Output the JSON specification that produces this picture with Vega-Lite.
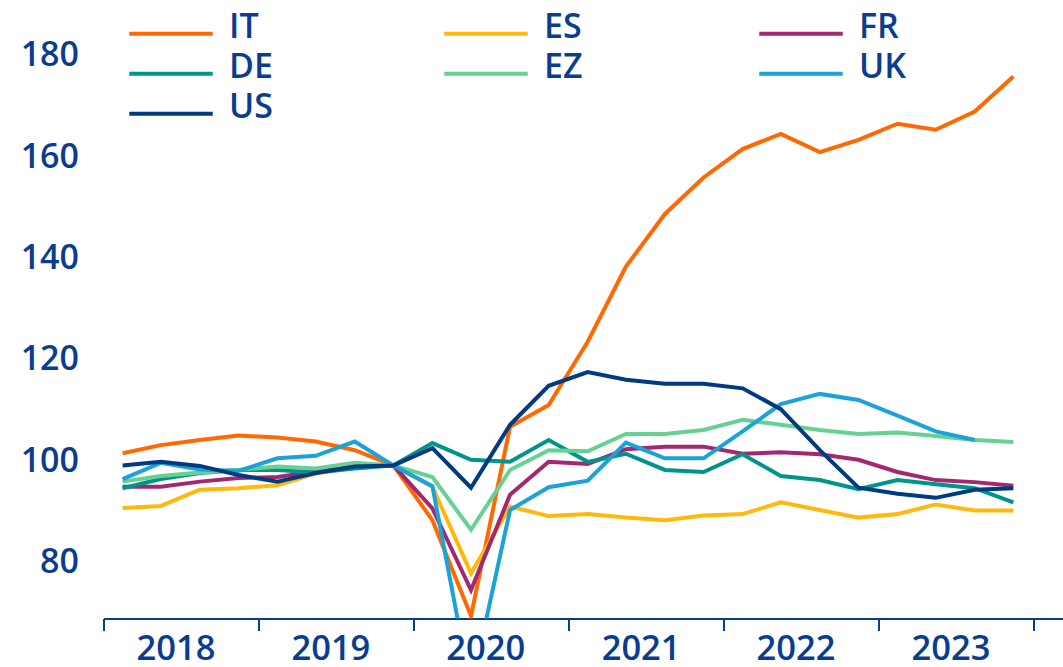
{
  "$schema": "https://vega.github.io/schema/vega-lite/v6.json",
  "width": 959.5,
  "height": 618.5,
  "autosize": {"type": "none"},
  "padding": {"left": 103.5, "top": 0, "right": 0, "bottom": 48.5},
  "background": "white",
  "config": {
    "view": {"stroke": null},
    "font": "Open Sans",
    "legend": {"padding": 0}
  },
  "data": {
    "values": [
      {"date": "2018-02-15", "c": "IT", "v": 101.6}, {"date": "2018-05-16", "c": "IT", "v": 103.2}, {"date": "2018-08-16", "c": "IT", "v": 104.2}, {"date": "2018-11-15", "c": "IT", "v": 105.1},
      {"date": "2019-02-15", "c": "IT", "v": 104.7}, {"date": "2019-05-16", "c": "IT", "v": 103.9}, {"date": "2019-08-16", "c": "IT", "v": 102.2}, {"date": "2019-11-15", "c": "IT", "v": 99.2},
      {"date": "2020-02-15", "c": "IT", "v": 88.4}, {"date": "2020-05-16", "c": "IT", "v": 69.5}, {"date": "2020-08-16", "c": "IT", "v": 106.8}, {"date": "2020-11-15", "c": "IT", "v": 111.1},
      {"date": "2021-02-15", "c": "IT", "v": 123.6}, {"date": "2021-05-16", "c": "IT", "v": 138.4}, {"date": "2021-08-16", "c": "IT", "v": 148.8}, {"date": "2021-11-15", "c": "IT", "v": 156.0},
      {"date": "2022-02-15", "c": "IT", "v": 161.6}, {"date": "2022-05-16", "c": "IT", "v": 164.6}, {"date": "2022-08-16", "c": "IT", "v": 161.0}, {"date": "2022-11-15", "c": "IT", "v": 163.4},
      {"date": "2023-02-15", "c": "IT", "v": 166.6}, {"date": "2023-05-16", "c": "IT", "v": 165.4}, {"date": "2023-08-16", "c": "IT", "v": 169.0}, {"date": "2023-11-15", "c": "IT", "v": 175.9},

      {"date": "2018-02-15", "c": "ES", "v": 90.8}, {"date": "2018-05-16", "c": "ES", "v": 91.2}, {"date": "2018-08-16", "c": "ES", "v": 94.4}, {"date": "2018-11-15", "c": "ES", "v": 94.7},
      {"date": "2019-02-15", "c": "ES", "v": 95.3}, {"date": "2019-05-16", "c": "ES", "v": 97.6}, {"date": "2019-08-16", "c": "ES", "v": 98.8}, {"date": "2019-11-15", "c": "ES", "v": 99.2},
      {"date": "2020-02-15", "c": "ES", "v": 95.0}, {"date": "2020-05-16", "c": "ES", "v": 77.9}, {"date": "2020-08-16", "c": "ES", "v": 91.1}, {"date": "2020-11-15", "c": "ES", "v": 89.2},
      {"date": "2021-02-15", "c": "ES", "v": 89.6}, {"date": "2021-05-16", "c": "ES", "v": 88.9}, {"date": "2021-08-16", "c": "ES", "v": 88.4}, {"date": "2021-11-15", "c": "ES", "v": 89.3},
      {"date": "2022-02-15", "c": "ES", "v": 89.6}, {"date": "2022-05-16", "c": "ES", "v": 91.9}, {"date": "2022-08-16", "c": "ES", "v": 90.4}, {"date": "2022-11-15", "c": "ES", "v": 88.9},
      {"date": "2023-02-15", "c": "ES", "v": 89.6}, {"date": "2023-05-16", "c": "ES", "v": 91.5}, {"date": "2023-08-16", "c": "ES", "v": 90.3}, {"date": "2023-11-15", "c": "ES", "v": 90.3},

      {"date": "2018-02-15", "c": "FR", "v": 95.0}, {"date": "2018-05-16", "c": "FR", "v": 95.0}, {"date": "2018-08-16", "c": "FR", "v": 96.0}, {"date": "2018-11-15", "c": "FR", "v": 96.7},
      {"date": "2019-02-15", "c": "FR", "v": 96.9}, {"date": "2019-05-16", "c": "FR", "v": 98.0}, {"date": "2019-08-16", "c": "FR", "v": 99.0}, {"date": "2019-11-15", "c": "FR", "v": 99.2},
      {"date": "2020-02-15", "c": "FR", "v": 90.7}, {"date": "2020-05-16", "c": "FR", "v": 74.6}, {"date": "2020-08-16", "c": "FR", "v": 93.4}, {"date": "2020-11-15", "c": "FR", "v": 99.9},
      {"date": "2021-02-15", "c": "FR", "v": 99.5}, {"date": "2021-05-16", "c": "FR", "v": 102.4}, {"date": "2021-08-16", "c": "FR", "v": 102.9}, {"date": "2021-11-15", "c": "FR", "v": 102.9},
      {"date": "2022-02-15", "c": "FR", "v": 101.5}, {"date": "2022-05-16", "c": "FR", "v": 101.8}, {"date": "2022-08-16", "c": "FR", "v": 101.4}, {"date": "2022-11-15", "c": "FR", "v": 100.3},
      {"date": "2023-02-15", "c": "FR", "v": 97.9}, {"date": "2023-05-16", "c": "FR", "v": 96.3}, {"date": "2023-08-16", "c": "FR", "v": 95.9}, {"date": "2023-11-15", "c": "FR", "v": 95.2},

      {"date": "2018-02-15", "c": "DE", "v": 94.7}, {"date": "2018-05-16", "c": "DE", "v": 96.5}, {"date": "2018-08-16", "c": "DE", "v": 97.7}, {"date": "2018-11-15", "c": "DE", "v": 98.3},
      {"date": "2019-02-15", "c": "DE", "v": 98.3}, {"date": "2019-05-16", "c": "DE", "v": 97.8}, {"date": "2019-08-16", "c": "DE", "v": 98.6}, {"date": "2019-11-15", "c": "DE", "v": 99.2},
      {"date": "2020-02-15", "c": "DE", "v": 103.6}, {"date": "2020-05-16", "c": "DE", "v": 100.3}, {"date": "2020-08-16", "c": "DE", "v": 99.9}, {"date": "2020-11-15", "c": "DE", "v": 104.2},
      {"date": "2021-02-15", "c": "DE", "v": 99.9}, {"date": "2021-05-16", "c": "DE", "v": 101.5}, {"date": "2021-08-16", "c": "DE", "v": 98.3}, {"date": "2021-11-15", "c": "DE", "v": 97.9},
      {"date": "2022-02-15", "c": "DE", "v": 101.4}, {"date": "2022-05-16", "c": "DE", "v": 97.1}, {"date": "2022-08-16", "c": "DE", "v": 96.3}, {"date": "2022-11-15", "c": "DE", "v": 94.5},
      {"date": "2023-02-15", "c": "DE", "v": 96.3}, {"date": "2023-05-16", "c": "DE", "v": 95.5}, {"date": "2023-08-16", "c": "DE", "v": 94.7}, {"date": "2023-11-15", "c": "DE", "v": 91.9},

      {"date": "2018-02-15", "c": "EZ", "v": 96.0}, {"date": "2018-05-16", "c": "EZ", "v": 97.1}, {"date": "2018-08-16", "c": "EZ", "v": 97.8}, {"date": "2018-11-15", "c": "EZ", "v": 98.3},
      {"date": "2019-02-15", "c": "EZ", "v": 99.0}, {"date": "2019-05-16", "c": "EZ", "v": 98.6}, {"date": "2019-08-16", "c": "EZ", "v": 99.7}, {"date": "2019-11-15", "c": "EZ", "v": 99.2},
      {"date": "2020-02-15", "c": "EZ", "v": 96.9}, {"date": "2020-05-16", "c": "EZ", "v": 86.5}, {"date": "2020-08-16", "c": "EZ", "v": 98.3}, {"date": "2020-11-15", "c": "EZ", "v": 102.2},
      {"date": "2021-02-15", "c": "EZ", "v": 102.0}, {"date": "2021-05-16", "c": "EZ", "v": 105.4}, {"date": "2021-08-16", "c": "EZ", "v": 105.4}, {"date": "2021-11-15", "c": "EZ", "v": 106.2},
      {"date": "2022-02-15", "c": "EZ", "v": 108.2}, {"date": "2022-05-16", "c": "EZ", "v": 107.2}, {"date": "2022-08-16", "c": "EZ", "v": 106.2}, {"date": "2022-11-15", "c": "EZ", "v": 105.4},
      {"date": "2023-02-15", "c": "EZ", "v": 105.7}, {"date": "2023-05-16", "c": "EZ", "v": 105.0}, {"date": "2023-08-16", "c": "EZ", "v": 104.2}, {"date": "2023-11-15", "c": "EZ", "v": 103.8},

      {"date": "2018-02-15", "c": "UK", "v": 96.5}, {"date": "2018-05-16", "c": "UK", "v": 99.7}, {"date": "2018-08-16", "c": "UK", "v": 98.4}, {"date": "2018-11-15", "c": "UK", "v": 98.1},
      {"date": "2019-02-15", "c": "UK", "v": 100.6}, {"date": "2019-05-16", "c": "UK", "v": 101.1}, {"date": "2019-08-16", "c": "UK", "v": 103.9}, {"date": "2019-11-15", "c": "UK", "v": 99.2},
      {"date": "2020-02-15", "c": "UK", "v": 95.1}, {"date": "2020-05-16", "c": "UK", "v": 55.0}, {"date": "2020-08-16", "c": "UK", "v": 90.4}, {"date": "2020-11-15", "c": "UK", "v": 94.9},
      {"date": "2021-02-15", "c": "UK", "v": 96.2}, {"date": "2021-05-16", "c": "UK", "v": 103.7}, {"date": "2021-08-16", "c": "UK", "v": 100.6}, {"date": "2021-11-15", "c": "UK", "v": 100.6},
      {"date": "2022-02-15", "c": "UK", "v": 105.9}, {"date": "2022-05-16", "c": "UK", "v": 111.3}, {"date": "2022-08-16", "c": "UK", "v": 113.3}, {"date": "2022-11-15", "c": "UK", "v": 112.1},
      {"date": "2023-02-15", "c": "UK", "v": 109.0}, {"date": "2023-05-16", "c": "UK", "v": 105.9}, {"date": "2023-08-16", "c": "UK", "v": 104.2},

      {"date": "2018-02-15", "c": "US", "v": 99.2}, {"date": "2018-05-16", "c": "US", "v": 99.9}, {"date": "2018-08-16", "c": "US", "v": 99.1}, {"date": "2018-11-15", "c": "US", "v": 97.3},
      {"date": "2019-02-15", "c": "US", "v": 96.0}, {"date": "2019-05-16", "c": "US", "v": 97.7}, {"date": "2019-08-16", "c": "US", "v": 99.0}, {"date": "2019-11-15", "c": "US", "v": 99.2},
      {"date": "2020-02-15", "c": "US", "v": 102.6}, {"date": "2020-05-16", "c": "US", "v": 94.8}, {"date": "2020-08-16", "c": "US", "v": 107.2}, {"date": "2020-11-15", "c": "US", "v": 114.9},
      {"date": "2021-02-15", "c": "US", "v": 117.6}, {"date": "2021-05-16", "c": "US", "v": 116.1}, {"date": "2021-08-16", "c": "US", "v": 115.3}, {"date": "2021-11-15", "c": "US", "v": 115.3},
      {"date": "2022-02-15", "c": "US", "v": 114.4}, {"date": "2022-05-16", "c": "US", "v": 110.3}, {"date": "2022-08-16", "c": "US", "v": 102.2}, {"date": "2022-11-15", "c": "US", "v": 94.8},
      {"date": "2023-02-15", "c": "US", "v": 93.6}, {"date": "2023-05-16", "c": "US", "v": 92.8}, {"date": "2023-08-16", "c": "US", "v": 94.4}, {"date": "2023-11-15", "c": "US", "v": 94.7}
    ]
  },
  "mark": {"type": "line", "strokeWidth": 4, "clip": true},
  "encoding": {
    "x": {
      "field": "date",
      "type": "temporal",
      "scale": {
        "type": "utc",
        "domain": [
          {"year": 2018, "month": 1, "date": 1, "utc": true},
          {"year": 2024, "month": 3, "date": 11, "utc": true}
        ]
      },
      "axis": {
        "title": null,
        "grid": false,
        "values": [
          {"year": 2018, "utc": true}, {"year": 2019, "utc": true}, {"year": 2020, "utc": true},
          {"year": 2021, "utc": true}, {"year": 2022, "utc": true}, {"year": 2023, "utc": true},
          {"year": 2024, "utc": true}
        ],
        "labelExpr": "utcyear(datum.value) < 2024 ? '' + utcyear(datum.value) : ''",
        "labelOffset": 72,
        "labelAlign": "center",
        "labelFlush": false,
        "labelOverlap": false,
        "labelBound": false,
        "labelFontSize": 34.5,
        "labelFontWeight": 600,
        "labelColor": "#0a3d8f",
        "labelPadding": 2,
        "tickSize": 12,
        "tickWidth": 2,
        "tickColor": "#0a3d8f",
        "domainWidth": 2,
        "domainColor": "#0a3d8f"
      }
    },
    "y": {
      "field": "v",
      "type": "quantitative",
      "scale": {"domain": [69, 191], "nice": false, "zero": false},
      "axis": {
        "title": null,
        "grid": false,
        "domain": false,
        "ticks": false,
        "values": [80, 100, 120, 140, 160, 180],
        "labelFontSize": 34,
        "labelFontWeight": 600,
        "labelColor": "#0a3d8f",
        "labelPadding": 25
      }
    },
    "color": {
      "field": "c",
      "type": "nominal",
      "sort": ["IT", "ES", "FR", "DE", "EZ", "UK", "US"],
      "scale": {
        "domain": ["IT", "ES", "FR", "DE", "EZ", "UK", "US"],
        "range": ["#ff6900", "#ffb80c", "#a3286f", "#00948a", "#66d193", "#1aa3db", "#003a80"]
      },
      "legend": {
        "title": null,
        "orient": "none",
        "direction": "horizontal",
        "legendX": 23.5,
        "legendY": 10,
        "columns": 3,
        "gridAlign": "all",
        "columnPadding": 166,
        "rowPadding": 5,
        "clipHeight": 35,
        "symbolType": "M-1,0.15H1",
        "symbolSize": 6972,
        "symbolStrokeWidth": 4,
        "labelFontSize": 34,
        "labelFontWeight": 600,
        "labelColor": "#0a3d8f",
        "labelOffset": 14,
        "padding": 0
      }
    }
  }
}
